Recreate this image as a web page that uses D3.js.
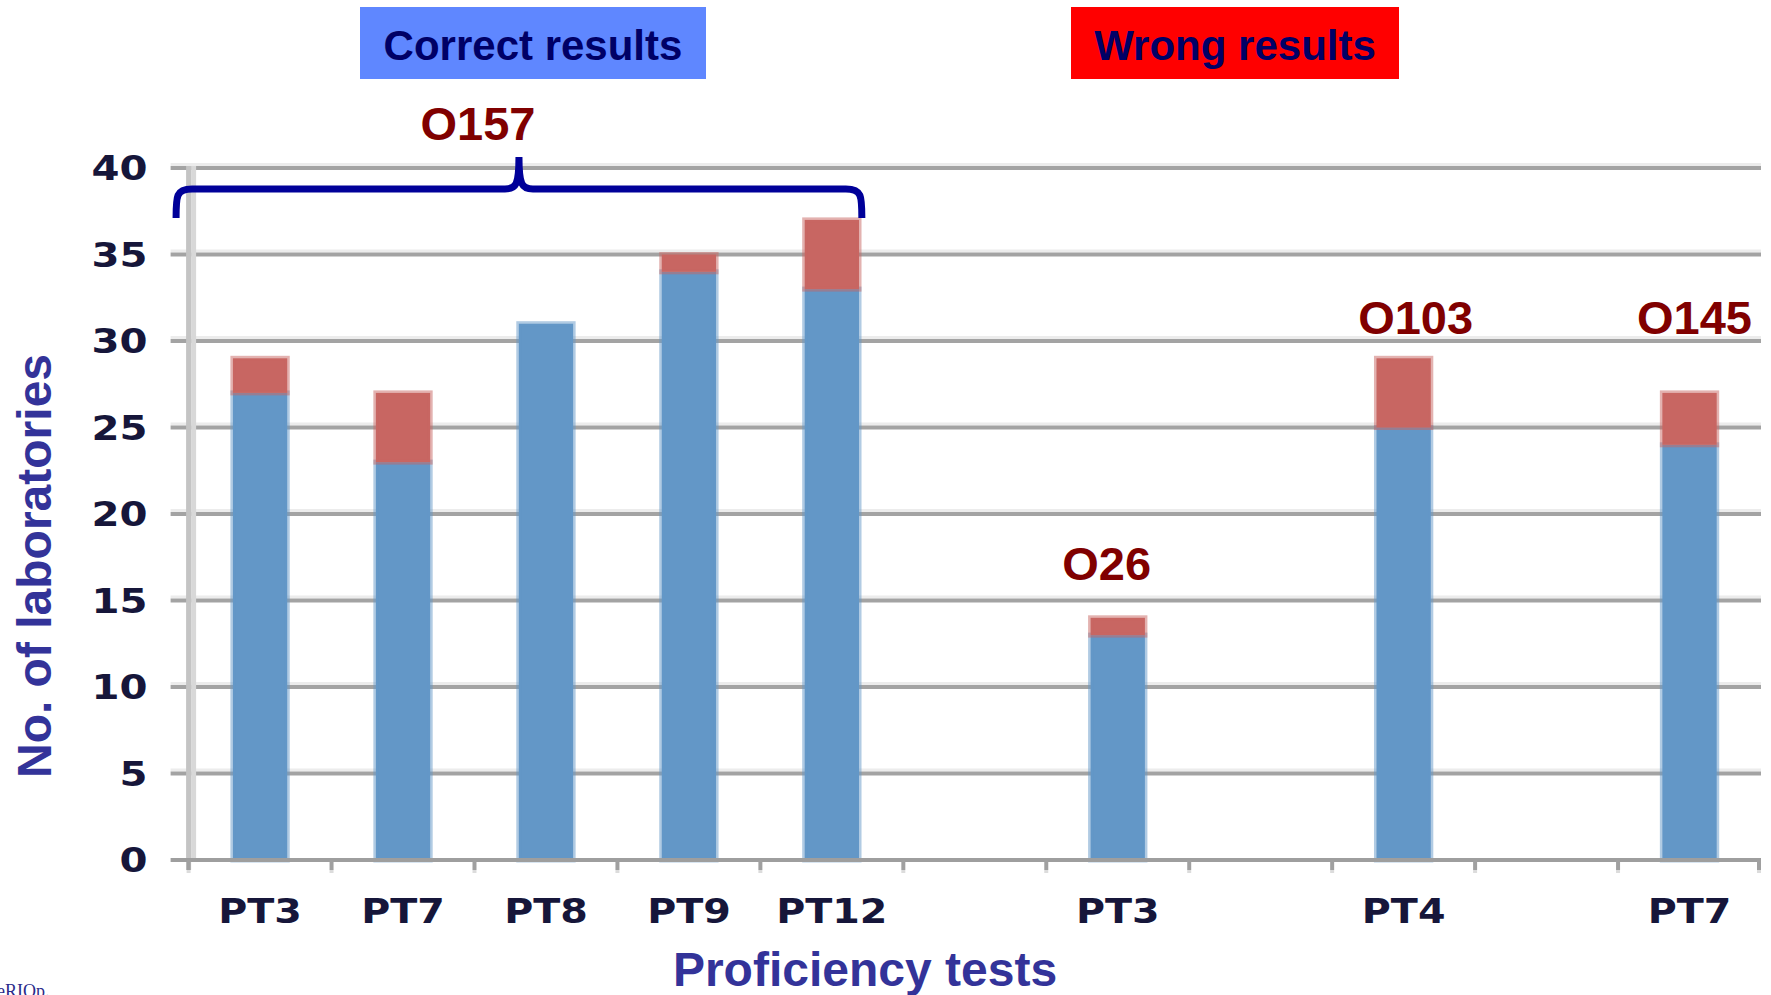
<!DOCTYPE html>
<html>
<head>
<meta charset="utf-8">
<script src="https://cdn.jsdelivr.net/npm/d3@7"></script>
<style>
  body { margin: 0; background: #fff; }
  svg { display: block; }
</style>
</head>
<body>
<div id="chart"></div>
<script>
// data
var categories = ["O157-PT3", "O157-PT7", "O157-PT8", "O157-PT9", "O157-PT12", "gap1", "O26-PT3", "gap2", "O103-PT4", "gap3", "O145-PT7"];
var tickLabels = ["PT3", "PT7", "PT8", "PT9", "PT12", "", "PT3", "", "PT4", "", "PT7"];
var correct = [27, 23, 31, 34, 33, null, 13, null, 25, null, 24];
var wrong = [2, 4, 0, 1, 4, null, 1, null, 4, null, 3];
var yTicks = [0, 5, 10, 15, 20, 25, 30, 35, 40];

var serotypes = ["O157", "O26", "O103", "O145"];
var serotypeCat = ["O157-PT3", "O26-PT3", "O103-PT4", "O145-PT7"];
var serotypeLevel = [41.6, 16.2, 30.4, 30.4];

var W = 1771, H = 995;
var plotLeft = 188.6, plotRight = 1761, plotTop = 168, plotBottom = 860;

var svg = d3.select("#chart").append("svg")
            .attr("width", W)
            .attr("height", H)
            .style("font-family", "'Liberation Sans', Arial, sans-serif");

var x = d3.scaleBand().domain(categories).range([plotLeft, plotRight]).padding(0);
var y = d3.scaleLinear().domain([0, 40]).range([plotBottom, plotTop]);

// gridlines (light shadow + darker line)
var grid = svg.append("g");
yTicks.filter(t => t > 0).forEach(function(t){
  grid.append("line")
      .attr("x1", plotLeft - 18).attr("x2", plotRight)
      .attr("y1", y(t) - 3.5).attr("y2", y(t) - 3.5)
      .attr("stroke", "#ececec").attr("stroke-width", 3);
  grid.append("line")
      .attr("x1", plotLeft - 18).attr("x2", plotRight)
      .attr("y1", y(t)).attr("y2", y(t))
      .attr("stroke", "#a3a3a3").attr("stroke-width", 4);
});

// y axis vertical band
svg.append("rect").attr("x", plotLeft - 2.5).attr("y", plotTop - 2).attr("width", 5).attr("height", plotBottom - plotTop + 12).attr("fill", "#c4c4c4");
svg.append("rect").attr("x", plotLeft + 2.5).attr("y", plotTop - 2).attr("width", 5).attr("height", plotBottom - plotTop).attr("fill", "#d8d8d8");

// stacked bars
var table = categories.map(function(c, i){
  return { cat: c, correct: correct[i], wrong: wrong[i] };
}).filter(d => d.correct !== null);

var stack = d3.stack().keys(["correct", "wrong"])(table);
var colors = { correct: "#6397c7", wrong: "#c86662" };
var barW = x.bandwidth() * 0.38;

svg.append("g").selectAll("g")
   .data(stack)
   .join("g")
   .attr("fill", d => colors[d.key])
   .attr("stroke", d => colors[d.key])
   .attr("stroke-opacity", 0.5)
   .attr("stroke-width", 5)
   .selectAll("rect")
   .data(d => d.filter(s => s[1] > s[0]))
   .join("rect")
   .attr("x", d => x(d.data.cat) + (x.bandwidth() - barW) / 2)
   .attr("y", d => y(d[1]))
   .attr("width", barW)
   .attr("height", d => y(d[0]) - y(d[1]));

// x axis line and ticks at band edges
svg.append("line")
   .attr("x1", plotLeft - 18).attr("x2", plotRight)
   .attr("y1", plotBottom).attr("y2", plotBottom)
   .attr("stroke", "#9e9e9e").attr("stroke-width", 4);

var edges = categories.map(c => x(c)).concat([plotRight - 2]);
edges.forEach(function(e){
  svg.append("line").attr("x1", e).attr("x2", e).attr("y1", plotBottom).attr("y2", plotBottom + 10)
     .attr("stroke", "#a0a0a0").attr("stroke-width", 4);
  svg.append("line").attr("x1", e).attr("x2", e).attr("y1", plotBottom + 10).attr("y2", plotBottom + 13)
     .attr("stroke", "#dcdcdc").attr("stroke-width", 4);
});

// tick labels
var tickFont = "'DejaVu Sans', Verdana, sans-serif";
svg.append("g").selectAll("text")
   .data(yTicks)
   .join("text")
   .attr("transform", d => "translate(" + (plotLeft - 41) + "," + (y(d) + 12) + ") scale(1.22,1)")
   .attr("text-anchor", "end")
   .attr("font-family", tickFont)
   .attr("font-weight", "bold")
   .attr("font-size", 33)
   .attr("fill", "#16163a")
   .text(d => d);

svg.append("g").selectAll("text")
   .data(categories)
   .join("text")
   .attr("transform", d => "translate(" + (x(d) + x.bandwidth() / 2) + ",923) scale(1.2,1)")
   .attr("text-anchor", "middle")
   .attr("font-family", tickFont)
   .attr("font-weight", "bold")
   .attr("font-size", 33)
   .attr("fill", "#16163a")
   .text((d, i) => tickLabels[i]);

// curly bracket over the O157 group
var bl = x(categories[0]) + x.bandwidth() / 2 - 84;
var br = x(categories[4]) + x.bandwidth() / 2 + 30;
var bm = (bl + br) / 2;
var by = 189;
svg.append("path")
   .attr("d", "M" + bl + ",218 C" + bl + ",196 " + bl + "," + by + " " + (bl + 16) + "," + by +
              " L" + (bm - 14) + "," + by +
              " C" + (bm - 3) + "," + by + " " + bm + "," + (by - 4) + " " + bm + "," + 157 +
              " C" + bm + "," + (by - 4) + " " + (bm + 3) + "," + by + " " + (bm + 14) + "," + by +
              " L" + (br - 16) + "," + by +
              " C" + br + "," + by + " " + br + ",196 " + br + ",218")
   .attr("fill", "none")
   .attr("stroke", "#000099")
   .attr("stroke-width", 7);

// serotype labels
var serotypeDx = [bm - (x(serotypeCat[0]) + x.bandwidth() / 2) - 41, -11, 12, 5];
svg.append("g").selectAll("text")
   .data(serotypes)
   .join("text")
   .attr("x", (d, i) => x(serotypeCat[i]) + x.bandwidth() / 2 + serotypeDx[i])
   .attr("y", (d, i) => y(serotypeLevel[i]))
   .attr("text-anchor", "middle")
   .attr("font-weight", "bold")
   .attr("font-size", 47)
   .attr("fill", "#800000")
   .text(d => d);

// header boxes
svg.append("rect").attr("x", 360).attr("y", 7).attr("width", 346).attr("height", 72).attr("fill", "#5f87ff");
svg.append("text").attr("x", 533).attr("y", 60).attr("text-anchor", "middle")
   .attr("font-weight", "bold").attr("font-size", 42).attr("fill", "#000066")
   .text("Correct results");

svg.append("rect").attr("x", 1071).attr("y", 7).attr("width", 328).attr("height", 72).attr("fill", "#ff0000");
svg.append("text").attr("x", 1235).attr("y", 60).attr("text-anchor", "middle")
   .attr("font-weight", "bold").attr("font-size", 42).attr("fill", "#000066")
   .text("Wrong results");

// axis titles
svg.append("text")
   .attr("transform", "translate(51,566) rotate(-90)")
   .attr("text-anchor", "middle")
   .attr("font-weight", "bold").attr("font-size", 48).attr("fill", "#333399")
   .text("No. of laboratories");

svg.append("text")
   .attr("x", 865).attr("y", 986)
   .attr("text-anchor", "middle")
   .attr("font-weight", "bold").attr("font-size", 48).attr("fill", "#333399")
   .text("Proficiency tests");

// clipped logo text at bottom left
svg.append("text")
   .attr("x", -3).attr("y", 997)
   .attr("font-family", "'Liberation Serif', serif")
   .attr("font-size", 18).attr("fill", "#2a2a8a")
   .text("eRIOp.");
</script>
</body>
</html>
